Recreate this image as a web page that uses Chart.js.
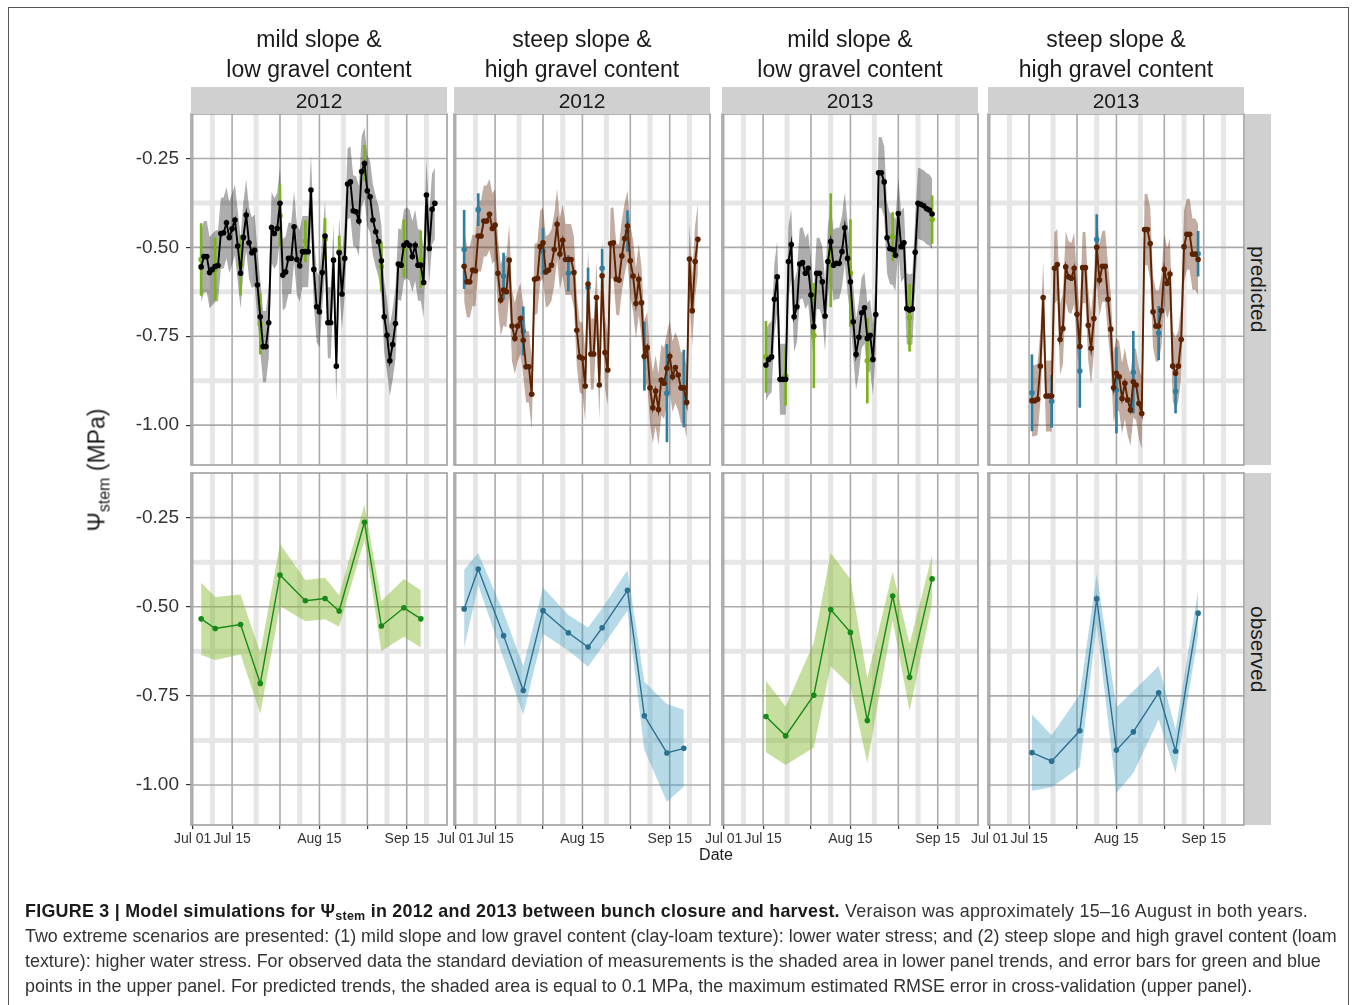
<!DOCTYPE html>
<html>
<head>
<meta charset="utf-8">
<script src="https://cdn.jsdelivr.net/npm/chart.js@4.4.1/dist/chart.umd.min.js"></script>
<style>
  html, body { margin: 0; padding: 0; background: #fff; }
  body { width: 1358px; height: 1005px; overflow: hidden; position: relative; font-family: "Liberation Sans", Arial, sans-serif; }
  canvas.panel { position: absolute; left: 0; top: 0; pointer-events: none; }
  .frame { position: absolute; left: 8px; top: 7px; width: 1341px; height: 1030px; border: 1.5px solid #555; box-sizing: border-box; }
  .coltitle { position: absolute; width: 300px; text-align: center; font-size: 23px; line-height: 30px; color: #1a1a1a; white-space: nowrap; }
  .strip { position: absolute; background: #d0d0d0; color: #1a1a1a; font-size: 21px; display: flex; align-items: center; justify-content: center; }
  .strip.v { writing-mode: vertical-rl; }
  .ytitle { position: absolute; left: 97px; top: 470px; transform: translate(-50%, -50%) rotate(-90deg); font-size: 23px; color: #1a1a1a; white-space: nowrap; }
  .ytitle sub { font-size: 16px; vertical-align: -5px; line-height: 0; }
  .xtitle { position: absolute; left: 716px; top: 855px; transform: translate(-50%, -50%); font-size: 16px; color: #1a1a1a; }
  .caption { position: absolute; left: 25px; top: 899px; font-size: 17.9px; color: #333; white-space: nowrap; }
  .caption .ln { display: block; height: 25px; line-height: 25px; }
  .caption .ln1 { letter-spacing: 0.25px; }
  .caption b { color: #1a1a1a; }
  .caption sub { font-size: 12.5px; vertical-align: -3px; line-height: 0; }
</style>
</head>
<body>
<div class="frame"></div>
<script>
// ---------------- data ----------------
// x values are days counted from Jul 01 (day 0)
const xTickDays   = [0, 14, 31, 45, 62, 76];
const xTickLabels = ['Jul 01', 'Jul 15', '', 'Aug 15', '', 'Sep 15'];
const xMinorDays  = [7, 22.5, 38, 53.5, 69, 83];
const yTicks      = [-1.00, -0.75, -0.50, -0.25];
const yTickLabels = ['-1.00', '-0.75', '-0.50', '-0.25'];
const yMinor      = [-0.875, -0.625, -0.375];

const columnTitles = [
  ['mild slope &', 'low gravel content'],
  ['steep slope &', 'high gravel content'],
  ['mild slope &', 'low gravel content'],
  ['steep slope &', 'high gravel content']
];
const columnYears = ['2012', '2012', '2013', '2013'];
const rowLabels = ['predicted', 'observed'];

const rmse = 0.1; // predicted band half-width (MPa)

// predicted daily series
const predStart2012 = 3;   // Jul 04
const predMild2012 = [
  -0.555,-0.526,-0.526,-0.571,-0.562,-0.553,-0.551,-0.461,-0.459,-0.431,
  -0.472,-0.448,-0.423,-0.496,-0.573,-0.472,-0.409,-0.487,-0.515,-0.508,
  -0.606,-0.695,-0.779,-0.779,-0.712,-0.444,-0.461,-0.447,-0.376,-0.578,
  -0.569,-0.531,-0.531,-0.442,-0.534,-0.552,-0.512,-0.512,-0.512,-0.339,
  -0.562,-0.667,-0.681,-0.571,-0.468,-0.712,-0.712,-0.536,-0.834,-0.515,
  -0.631,-0.531,-0.322,-0.316,-0.397,-0.400,-0.426,-0.287,-0.264,-0.341,
  -0.358,-0.423,-0.456,-0.484,-0.538,-0.695,-0.747,-0.819,-0.773,-0.714,
  -0.547,-0.550,-0.494,-0.487,-0.494,-0.526,-0.494,-0.550,-0.550,-0.599,
  -0.353,-0.503,-0.393,-0.376
];
const predSteep2012 = [
  -0.553,-0.597,-0.597,-0.564,-0.566,-0.468,-0.468,-0.426,-0.426,-0.407,
  -0.447,-0.437,-0.573,-0.648,-0.620,-0.625,-0.536,-0.721,-0.756,-0.721,
  -0.700,-0.761,-0.836,-0.836,-0.913,-0.590,-0.587,-0.498,-0.487,-0.569,
  -0.564,-0.550,-0.506,-0.435,-0.519,-0.480,-0.534,-0.534,-0.534,-0.571,
  -0.733,-0.808,-0.812,-0.890,-0.603,-0.800,-0.800,-0.641,-0.887,-0.580,
  -0.796,-0.845,-0.489,-0.487,-0.589,-0.592,-0.524,-0.475,-0.440,-0.538,
  -0.581,-0.658,-0.590,-0.656,-0.806,-0.782,-0.895,-0.951,-0.904,-0.956,
  -0.873,-0.882,-0.840,-0.806,-0.864,-0.838,-0.859,-0.895,-0.895,-0.936,
  -0.533,-0.678,-0.540,-0.477
];
const predStart2013 = 15;  // Jul 16
const predMild2013 = [
  -0.831,-0.815,-0.808,-0.646,-0.583,-0.871,-0.871,-0.871,-0.540,-0.492,
  -0.695,-0.667,-0.547,-0.543,-0.573,-0.559,-0.634,-0.723,-0.573,-0.573,
  -0.597,-0.693,-0.540,-0.484,-0.550,-0.545,-0.545,-0.512,-0.445,-0.531,
  -0.597,-0.709,-0.801,-0.753,-0.684,-0.670,-0.756,-0.747,-0.815,-0.689,
  -0.290,-0.290,-0.316,-0.473,-0.503,-0.506,-0.522,-0.405,-0.498,-0.487,
  -0.672,-0.676,-0.673,-0.514,-0.376,-0.379,-0.383,-0.391,-0.395,-0.406
];
const predSteep2013 = [
  -0.931,-0.931,-0.927,-0.834,-0.641,-0.918,-0.918,-0.918,-0.559,-0.548,
  -0.759,-0.728,-0.555,-0.583,-0.587,-0.559,-0.688,-0.779,-0.557,-0.557,
  -0.719,-0.784,-0.700,-0.500,-0.592,-0.553,-0.553,-0.646,-0.730,-0.895,
  -0.854,-0.864,-0.925,-0.882,-0.929,-0.957,-0.878,-0.887,-0.939,-0.967,
  -0.450,-0.450,-0.489,-0.681,-0.721,-0.721,-0.678,-0.562,-0.601,-0.575,
  -0.834,-0.854,-0.834,-0.759,-0.498,-0.463,-0.463,-0.519,-0.519,-0.534
];

// observed means and standard deviations
const obsDays2012  = [3, 8, 17, 24, 31, 40, 47, 52, 61, 67, 75, 81];
const obsMild2012  = [-0.534,-0.561,-0.550,-0.715,-0.411,-0.483,-0.477,-0.512,-0.263,-0.554,-0.503,-0.534];
const sdMild2012   = [0.101,0.088,0.084,0.085,0.087,0.058,0.058,0.044,0.050,0.070,0.081,0.080];
const obsSteep2012 = [-0.506,-0.394,-0.581,-0.735,-0.511,-0.573,-0.613,-0.559,-0.454,-0.806,-0.910,-0.897];
const sdSteep2012  = [0.110,0.045,0.065,0.068,0.065,0.050,0.055,0.054,0.057,0.096,0.137,0.108];
const obsDays2013  = [15, 22, 32, 38, 45, 51, 60, 66, 74];
const obsMild2013  = [-0.808,-0.862,-0.748,-0.508,-0.572,-0.819,-0.470,-0.698,-0.422];
const sdMild2013   = [0.100,0.082,0.147,0.159,0.150,0.119,0.068,0.094,0.067];
const obsSteep2013 = [-0.909,-0.933,-0.848,-0.478,-0.902,-0.851,-0.741,-0.905,-0.518];
const sdSteep2013  = [0.107,0.073,0.102,0.070,0.120,0.115,0.075,0.061,0.063];

// ---------------- layout ----------------
const W = 1358, H = 1005, PW = 256;
const colLeft = [191, 454, 722, 988];
const rowTop = [114, 473], rowBottom = [465, 825];
const X_MIN = -0.6, X_MAX = 90.3, Y_MIN = -1.112, Y_MAX = -0.125;
const FONT = '"Liberation Sans", Arial, sans-serif';

const scenarios = [
  { start: predStart2012, pred: predMild2012,  days: obsDays2012, obs: obsMild2012,  sd: sdMild2012,
    predLine: '#000000', predBand: 'rgba(0,0,0,0.32)', err: '#7db31a', obsLine: '#168a16', obsBand: 'rgba(130,185,40,0.45)' },
  { start: predStart2012, pred: predSteep2012, days: obsDays2012, obs: obsSteep2012, sd: sdSteep2012,
    predLine: '#5c2200', predBand: 'rgba(92,31,0,0.37)', err: '#2e7fa1', obsLine: '#2a7090', obsBand: 'rgba(50,150,190,0.35)' },
  { start: predStart2013, pred: predMild2013,  days: obsDays2013, obs: obsMild2013,  sd: sdMild2013,
    predLine: '#000000', predBand: 'rgba(0,0,0,0.32)', err: '#7db31a', obsLine: '#168a16', obsBand: 'rgba(130,185,40,0.45)' },
  { start: predStart2013, pred: predSteep2013, days: obsDays2013, obs: obsSteep2013, sd: sdSteep2013,
    predLine: '#5c2200', predBand: 'rgba(92,31,0,0.37)', err: '#2e7fa1', obsLine: '#2a7090', obsBand: 'rgba(50,150,190,0.35)' }
];

const gridPlugin = {
  id: 'ggGrid',
  beforeDatasetsDraw(chart) {
    const { ctx, chartArea: a, scales: { x, y } } = chart;
    ctx.save();
    ctx.beginPath();
    ctx.rect(a.left, a.top, a.right - a.left, a.bottom - a.top);
    ctx.clip();
    const vline = (v, c, w) => { const p = x.getPixelForValue(v); ctx.strokeStyle = c; ctx.lineWidth = w; ctx.beginPath(); ctx.moveTo(p, a.top); ctx.lineTo(p, a.bottom); ctx.stroke(); };
    const hline = (v, c, w) => { const p = y.getPixelForValue(v); ctx.strokeStyle = c; ctx.lineWidth = w; ctx.beginPath(); ctx.moveTo(a.left, p); ctx.lineTo(a.right, p); ctx.stroke(); };
    xMinorDays.forEach(v => vline(v, '#e6e6e6', 5));
    yMinor.forEach(v => hline(v, '#e6e6e6', 5));
    xTickDays.forEach(v => vline(v, '#ababab', 1.6));
    yTicks.forEach(v => hline(v, '#ababab', 1.6));
    ctx.restore();
  },
  afterDatasetsDraw(chart) {
    const { ctx, chartArea: a } = chart;
    ctx.save();
    ctx.strokeStyle = '#a0a0a0';
    ctx.lineWidth = 1.6;
    ctx.strokeRect(a.left, a.top, a.right - a.left, a.bottom - a.top);
    ctx.restore();
  }
};

function makeChart(col, row, datasets) {
  const cv = document.createElement('canvas');
  cv.width = W; cv.height = H; cv.className = 'panel';
  document.body.appendChild(cv);
  const l = colLeft[col], r = l + PW, t = rowTop[row], b = rowBottom[row];
  const showY = col === 0, showX = row === 1;
  const YW = 60, XH = 30;
  new Chart(cv, {
    type: 'line',
    data: { datasets },
    options: {
      responsive: false, animation: false, events: [],
      layout: { padding: { left: showY ? l - YW : l, right: W - r, top: t, bottom: showX ? H - b - XH : H - b } },
      plugins: { legend: { display: false }, tooltip: { enabled: false } },
      scales: {
        x: {
          type: 'linear', min: X_MIN, max: X_MAX, offset: false, display: showX,
          grid: { display: true, drawOnChartArea: false, drawTicks: true, tickLength: 4, color: '#333', lineWidth: 1.2 },
          border: { display: false },
          ticks: { autoSkip: false, maxRotation: 0, minRotation: 0, padding: 2, color: '#333', font: { family: FONT, size: 14 },
                   callback: (v, i) => xTickLabels[i] },
          afterBuildTicks: s => { s.ticks = xTickDays.map(v => ({ value: v })); },
          afterFit: s => { s.height = showX ? XH : 0; }
        },
        y: {
          type: 'linear', min: Y_MIN, max: Y_MAX, display: showY,
          grid: { display: true, drawOnChartArea: false, drawTicks: true, tickLength: 5, color: '#333', lineWidth: 1.2 },
          border: { display: false },
          ticks: { padding: 7, color: '#333', font: { family: FONT, size: 19 }, callback: (v, i) => yTickLabels[i] },
          afterBuildTicks: s => { s.ticks = yTicks.map(v => ({ value: v })); },
          afterFit: s => { s.width = showY ? YW : 0; }
        }
      }
    },
    plugins: [gridPlugin]
  });
}

scenarios.forEach((s, col) => {
  // predicted (top row)
  const predPts = s.pred.map((v, i) => ({ x: s.start + i, y: v }));
  const predUp = s.pred.map((v, i) => ({ x: s.start + i, y: v + rmse }));
  const predLo = s.pred.map((v, i) => ({ x: s.start + i, y: v - rmse }));
  const obsPts = s.obs.map((v, i) => ({ x: s.days[i], y: v }));
  const errPts = s.obs.map((v, i) => ({ x: s.days[i], y: [v - s.sd[i], v + s.sd[i]] }));
  const obsUp = s.obs.map((v, i) => ({ x: s.days[i], y: v + s.sd[i] }));
  const obsLo = s.obs.map((v, i) => ({ x: s.days[i], y: v - s.sd[i] }));

  makeChart(col, 0, [
    { type: 'line', data: predPts, borderColor: s.predLine, borderWidth: 1.9, pointRadius: 2.8, pointBackgroundColor: s.predLine, pointBorderWidth: 0, tension: 0, order: 0 },
    { type: 'line', data: obsPts, showLine: false, pointRadius: 2.8, pointBackgroundColor: s.err, pointBorderWidth: 0, order: 1 },
    { type: 'bar', data: errPts, backgroundColor: s.err, barThickness: 2, order: 2 },
    { type: 'line', data: predUp, fill: '+1', backgroundColor: s.predBand, borderWidth: 0, pointRadius: 0, order: 3 },
    { type: 'line', data: predLo, fill: false, borderWidth: 0, pointRadius: 0, order: 4 }
  ]);
  // observed (bottom row)
  makeChart(col, 1, [
    { type: 'line', data: obsPts, borderColor: s.obsLine, borderWidth: 1.4, pointRadius: 2.8, pointBackgroundColor: s.obsLine, pointBorderWidth: 0, tension: 0, order: 0 },
    { type: 'line', data: obsUp, fill: '+1', backgroundColor: s.obsBand, borderWidth: 0, pointRadius: 0, order: 1 },
    { type: 'line', data: obsLo, fill: false, borderWidth: 0, pointRadius: 0, order: 2 }
  ]);
});

// ---------------- text ----------------
function addDiv(cls, html, style) {
  const d = document.createElement('div');
  d.className = cls; d.innerHTML = html;
  Object.assign(d.style, style);
  document.body.appendChild(d);
  return d;
}
columnTitles.forEach((lines, c) => {
  const cx = colLeft[c] + PW / 2;
  addDiv('coltitle', lines[0], { left: (cx - 150) + 'px', top: '24px' });
  addDiv('coltitle', lines[1], { left: (cx - 150) + 'px', top: '54px' });
  addDiv('strip', columnYears[c], { left: colLeft[c] + 'px', top: '87px', width: PW + 'px', height: '27px' });
});
rowLabels.forEach((lab, r) => {
  addDiv('strip v', lab, { left: '1245px', top: rowTop[r] + 'px', width: '26px', height: (rowBottom[r] - rowTop[r]) + 'px' });
});
addDiv('ytitle', 'Ψ<sub>stem</sub> (MPa)', {});
addDiv('xtitle', 'Date', {});
addDiv('caption',
  '<span class="ln ln1"><b>FIGURE 3 | Model simulations for Ψ<sub>stem</sub> in 2012 and 2013 between bunch closure and harvest.</b> Veraison was approximately 15–16 August in both years.</span>' +
  '<span class="ln">Two extreme scenarios are presented: (1) mild slope and low gravel content (clay-loam texture): lower water stress; and (2) steep slope and high gravel content (loam</span>' +
  '<span class="ln">texture): higher water stress. For observed data the standard deviation of measurements is the shaded area in lower panel trends, and error bars for green and blue</span>' +
  '<span class="ln">points in the upper panel. For predicted trends, the shaded area is equal to 0.1 MPa, the maximum estimated RMSE error in cross-validation (upper panel).</span>', {});
</script>
</body>
</html>
